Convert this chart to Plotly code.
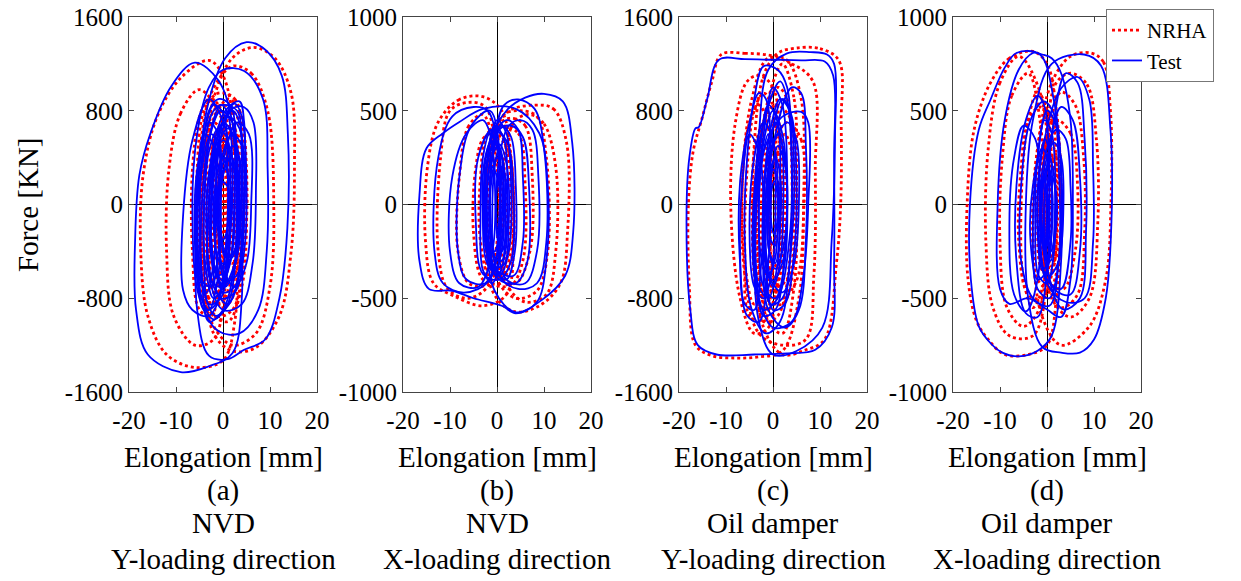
import plotly.graph_objects as go

# ---------------- data (elongation mm, force kN), loops ----------------
A_NRHA = [
    [(-3,1230),(-9,1080),(-14,750),(-17,250),(-17.5,-400),(-16,-950),(-12,-1280),(-6,-1390),(0,-1330),(2.5,-1000),(3,-200),(2.5,600),(0,1100)],
    [(6.5,1340),(11,1250),(14.5,950),(15.2,300),(14.5,-400),(12,-950),(7,-1220),(2,-1250),(-2,-1100),(-4,-500),(-4,300),(-2,900),(2,1250)],
    [(2,1180),(6,1120),(9.5,800),(10.8,0),(10,-700),(7,-1100),(2,-1200),(-2.5,-1000),(-5,-400),(-5,400),(-2.5,950)],
    [(-5,980),(-9,780),(-11.5,300),(-12,-400),(-10.5,-950),(-6,-1200),(-2,-1150),(0.5,-700),(1,100),(0,700)],
    [(-1,950),(2.5,900),(4.5,500),(5,-200),(4,-700),(1,-1000),(-3,-900),(-5.5,-400),(-5.5,300),(-4,800)],
    [(0,850),(3,750),(4,200),(3.5,-500),(1,-850),(-3,-800),(-4.5,-300),(-4,400),(-2,800)],
    [(-1,800),(1.5,650),(2.5,0),(2,-600),(-0.5,-850),(-3,-600),(-3.5,0),(-3,550)],
    [(0.5,650),(2.5,450),(3,-100),(2,-600),(-0.5,-700),(-2.5,-400),(-2.5,200),(-1.5,600)],
    [(-0.5,500),(1.5,350),(1.8,-200),(0.5,-550),(-1.5,-450),(-2,0),(-1.5,400)],
    [(1,300),(3.5,250),(4,-200),(2.5,-500),(0,-450),(-1,-50),(-0.5,250)],
    [(-2,700),(0,600),(0.5,0),(-0.5,-700),(-2.5,-850),(-4,-500),(-4,200),(-3.5,600)],
    [(1,900),(3.5,800),(5,300),(4.5,-400),(2,-900),(-1.5,-950),(-4,-600),(-4.5,0),(-3,600)],
    [(-1.5,600),(0.5,500),(1,0),(0,-500),(-2,-650),(-3.2,-300),(-3,200)],
    [(0,400),(2,300),(2.2,-100),(1,-400),(-1,-350),(-1.5,0),(-1,300)],
    [(2,650),(4,500),(4.5,0),(3.5,-500),(1,-650),(-1,-400),(-1,100),(0,500)],
    [(-3,900),(-1,850),(0,300),(-0.5,-500),(-2.5,-950),(-5,-900),(-6.5,-400),(-6.5,300),(-5,750)],
    [(0.5,750),(2.5,650),(3.5,150),(3,-400),(1,-800),(-2,-750),(-3,-300),(-2.5,300),(-1,650)],
]
A_TEST = [
    [(-6,1210),(-11,1010),(-15.5,600),(-17.8,250),(-18.7,-300),(-18.5,-900),(-16,-1280),(-9,-1430),(-3,-1380),(2,-1270),(4,-800),(3.5,0),(2,700),(-1,1060)],
    [(5,1385),(9,1320),(12.5,1100),(13.8,600),(13.7,-200),(12,-800),(9,-1150),(4.5,-1240),(1,-1320),(-3,-1290),(-5.5,-900),(-5.5,0),(-3.5,800),(0.5,1250)],
    [(0,1150),(4.5,1140),(8.5,900),(9.5,300),(9.3,-400),(7.5,-900),(3.5,-1100),(-1,-1080),(-5,-800),(-6.5,-100),(-5.5,600),(-3,1000)],
    [(-3,900),(-6.5,550),(-8.5,-100),(-8.5,-730),(-6.5,-900),(-3,-950),(0,-700),(1.5,0),(0.5,650)],
    [(4.5,830),(6.5,700),(7,100),(6.3,-500),(4,-850),(0,-900),(-3,-600),(-3,0),(-1,600),(2,820)],
    [(0,850),(3,800),(4,400),(4,-300),(2,-800),(-1.5,-950),(-4,-750),(-5,-200),(-4,500),(-2,800)],
    [(3.5,880),(4.5,700),(4.5,0),(3.5,-600),(1,-850),(-2,-700),(-3.5,-200),(-2.5,400),(0.5,800)],
    [(-0.5,800),(2,700),(2.8,200),(2.5,-500),(0,-900),(-3,-1000),(-4.5,-600),(-4.5,0),(-3,550)],
    [(1,650),(3,500),(3.5,0),(2.5,-500),(0,-700),(-2,-500),(-2.5,0),(-1.5,450)],
    [(0,550),(2,400),(2.3,-100),(1,-550),(-1,-600),(-2.5,-300),(-2,250)],
    [(2,600),(4,500),(4.5,-100),(3,-600),(0.5,-650),(-1,-200),(-0.5,350)],
    [(-1.5,450),(0.5,350),(1,-200),(-0.5,-700),(-2.5,-650),(-3.5,-200),(-3,250)],
    [(0.5,300),(1.5,200),(1.5,-200),(0.5,-400),(-0.5,-300),(-1,0),(-0.5,250)],
    [(-2,850),(0,780),(1,300),(0.5,-400),(-1.5,-850),(-4,-900),(-5.5,-500),(-5.5,100),(-4,600)],
    [(2.5,860),(4,750),(5,200),(4.5,-400),(2.5,-750),(-0.5,-800),(-2.5,-400),(-2,200),(0,700)],
    [(-3,700),(-1,600),(-0.5,0),(-1,-600),(-3,-900),(-5,-750),(-6,-300),(-5.5,300)],
    [(1,750),(3.5,650),(4,100),(3,-450),(0.5,-700),(-2,-550),(-3,-100),(-2,450)],
    [(0,400),(2.5,300),(3,-100),(2,-450),(-0.5,-500),(-2,-200),(-1.5,200)],
    [(-1,650),(1,550),(1.5,0),(0.5,-650),(-2,-800),(-3.8,-500),(-4,0),(-3,450)],
    [(3,700),(5.5,600),(6,0),(5,-500),(2.5,-700),(0,-550),(-1,-100),(0.5,450)],
    [(-0.5,200),(1,150),(1.2,-150),(0,-300),(-1.2,-200),(-1.3,50)],
    [(-4,600),(-2,500),(-1.5,0),(-2,-500),(-3.5,-750),(-5.2,-600),(-5.8,-100),(-5.2,350)],
    [(2,500),(3.5,400),(3.8,0),(3,-350),(1,-450),(-0.5,-200),(0,250)],
    [(-1,900),(1.5,850),(3,400),(3,-300),(1,-850),(-2,-980),(-4.5,-800),(-5.5,-300),(-4.5,400),(-3,800)],
    [(2,800),(3.5,700),(4.5,300),(4.2,-300),(2.5,-700),(0,-750),(-1.5,-400),(-1.5,200),(0,650)],
    [(-2.5,600),(-1,500),(-0.5,100),(-1,-400),(-2.5,-700),(-4.5,-650),(-5,-200),(-4.5,300)],
    [(0,700),(2,600),(2.5,100),(2,-400),(0,-650),(-2,-500),(-2.5,0),(-1.5,500)],
    [(1.5,400),(3,300),(3.3,-100),(2.5,-400),(0.5,-450),(-0.5,-150),(0,250)],
    [(-0.5,850),(1,780),(2,300),(1.5,-300),(-0.5,-800),(-3,-850),(-4,-500),(-3.8,200),(-2.5,650)],
]

B_NRHA = [
    [(-3,575),(-8,560),(-12.5,440),(-14.8,200),(-15.2,-200),(-13.5,-420),(-9,-490),(-3,-540),(2,-480),(3.5,-150),(3,250),(1,500)],
    [(8,530),(12,510),(14.8,330),(15,-150),(13.5,-420),(9,-540),(3.5,-570),(-1,-460),(-2.5,-100),(-1.5,300),(2,490)],
    [(-6,545),(-10,500),(-12,250),(-12.5,-250),(-10.5,-450),(-6,-500),(-1.5,-420),(0.5,-50),(-0.5,350),(-2.5,520)],
    [(5,500),(8.5,470),(10.5,250),(10.8,-250),(8.5,-460),(4,-500),(0,-400),(-2,-50),(-1,330),(1.5,480)],
    [(1,420),(4.5,380),(6,100),(5.5,-300),(3,-430),(-1,-420),(-3.5,-200),(-3.5,150),(-2,380)],
    [(-1,380),(2,330),(3.5,50),(3,-300),(0.5,-420),(-3,-400),(-5,-150),(-4.5,200),(-3,350)],
    [(0,300),(1.5,200),(2,-100),(1,-330),(-1,-350),(-2.5,-100),(-2,200)],
    [(3,460),(6,420),(7.5,150),(7,-250),(4,-420),(0,-380),(-2,-100),(-1.5,250),(0.5,430)],
    [(-0.5,250),(1,150),(1,-200),(-0.5,-300),(-1.5,-100),(-1.5,150)],
    [(0,400),(2,300),(3,0),(2,-300),(0,-400),(-2,-250),(-2.5,100),(-1.5,330)],
    [(-3,480),(-6,420),(-8,150),(-8.3,-250),(-6,-420),(-2.5,-430),(0,-200),(0,200)],
    [(7,480),(10,430),(12.5,200),(12.5,-250),(10.5,-480),(6,-520),(2,-420),(1,-50),(2,320),(4,450)],
    [(0.5,350),(2.5,280),(3.5,0),(3,-250),(1,-380),(-1.5,-320),(-2.5,-50),(-1.5,250)],
]
B_TEST = [
    [(-11.5,380),(-15,300),(-16.5,50),(-16.5,-300),(-14.5,-450),(-9.5,-460),(-5,-500),(1,-540),(4,-580),(8.5,-520),(10.5,-300),(10.8,100),(9,380),(4,510),(-3,510),(-8,440)],
    [(10,590),(14,550),(16,330),(16.2,-150),(14.5,-380),(9.5,-510),(4,-575),(-0.5,-460),(-2.5,-100),(-2,300),(2,500),(6,570)],
    [(-5,520),(-9.5,470),(-12.5,250),(-13.3,-250),(-11.5,-420),(-7,-470),(-1.5,-400),(0.5,-50),(0,330),(-2,500)],
    [(4.5,560),(8,510),(10,300),(10.5,-200),(8.5,-420),(4.5,-450),(0.5,-380),(-1.5,0),(-0.5,350),(1.5,530)],
    [(-1.5,500),(-5.5,420),(-8,150),(-8.3,-250),(-6.5,-400),(-2.5,-420),(0.5,-200),(0.8,200)],
    [(3,420),(5.5,360),(6.8,100),(6.5,-300),(4,-420),(0,-390),(-2.5,-150),(-2,220),(0.5,400)],
    [(-1,400),(2,340),(3.5,50),(3,-300),(0.5,-400),(-3,-370),(-4.5,-100),(-4,250)],
    [(0.5,320),(2,220),(2.5,-100),(1.5,-320),(-0.5,-330),(-2,-100),(-1.5,220)],
    [(0,250),(1.2,150),(1.2,-150),(0,-300),(-1.2,-200),(-1.3,100)],
    [(2,450),(4.5,400),(5.5,150),(5.5,-200),(3.5,-380),(-1,-330),(-3,-50),(-2,300)],
    [(0,450),(2,380),(3,100),(2.5,-250),(0.5,-380),(-2,-320),(-3,-50),(-2,250)],
    [(-0.5,350),(1,250),(1.5,0),(1,-250),(-0.5,-350),(-2,-200),(-2,100)],
    [(1,200),(2,100),(2,-150),(1,-250),(0,-150),(0,100)],
    [(-1,200),(0.3,120),(0.5,-150),(-0.5,-250),(-1.5,-150),(-1.5,100)],
    [(5,450),(7.5,400),(8.8,150),(8.5,-250),(6,-420),(2,-400),(0,-150),(0.5,250),(2.5,420)],
    [(-3,450),(-6.5,380),(-9.5,150),(-10,-250),(-8,-420),(-4,-440),(-1,-250),(-0.5,150),(-1.5,380)],
    [(-0.5,420),(1.5,350),(2.2,50),(1.8,-250),(0,-380),(-1.8,-300),(-2.5,-50),(-2,250)],
    [(0.5,300),(1.5,200),(1.8,-50),(1,-300),(-0.5,-280),(-1,-50),(-0.5,200)],
    [(1,420),(3,360),(4,100),(3.8,-250),(2,-400),(-0.5,-350),(-1.5,-100),(-1,250)],
    [(-1.5,380),(0,300),(0.8,0),(0.5,-300),(-1,-420),(-3,-350),(-3.5,-50),(-3,250)],
]

C_NRHA = [
    [(-11,1280),(-6,1290),(-1,1275),(3,1230),(6,900),(6.5,0),(5.5,-800),(2,-1250),(-3,-1300),(-8,-1310),(-13,-1290),(-16.5,-1200),(-17.8,-700),(-18,0),(-17,450),(-15,750),(-13,1050)],
    [(5,1335),(10,1330),(14,1230),(14.5,700),(14.4,0),(13.5,-500),(11,-1150),(7,-1240),(2,-1280),(-2,-1050),(-4,-300),(-4,500),(-2,1100),(1,1290)],
    [(-1,1250),(4,1200),(8.5,1050),(9,300),(8.7,-600),(7,-1150),(2,-1200),(-3,-1100),(-6,-600),(-6.5,200),(-4.5,900)],
    [(-3,1100),(0,1000),(1.5,300),(1,-600),(-1,-1050),(-4,-1100),(-7,-800),(-9,0),(-8,700),(-5.5,1050)],
    [(2,1200),(4.5,900),(5,200),(4.5,-700),(2,-1100),(-1,-1000),(-3,-500),(-3,300),(-1,900)],
    [(0.5,850),(3.5,750),(5,200),(4.5,-500),(2,-850),(-1.5,-800),(-3.5,-300),(-3,350),(-1.5,750)],
    [(-1,750),(1.5,550),(2,0),(1.5,-600),(-1,-900),(-3.5,-600),(-4.5,0),(-3.5,550)],
    [(0,500),(1.5,350),(2,-100),(1,-500),(-1,-550),(-2,-150),(-1.5,300)],
    [(3,700),(6,550),(6.5,-100),(5,-650),(2,-800),(-1,-600),(-1.5,0),(0.5,550)],
    [(-3,850),(-1,650),(-0.5,-100),(-1.5,-700),(-4,-850),(-6,-500),(-6.5,200),(-5,700)],
    [(1,1000),(3,900),(4,300),(3.5,-500),(1,-950),(-2,-1000),(-4,-600),(-4,100),(-2,700)],
    [(-2,950),(0,850),(0.5,200),(0,-500),(-2,-1000),(-5,-950),(-6,-400),(-5.5,300),(-4,800)],
    [(0,300),(1,200),(1,-200),(0,-350),(-1,-200),(-1,100)],
    [(2.5,600),(4,450),(4.5,-100),(3.5,-600),(1,-700),(-0.5,-400),(-0.5,100),(1,450)],
    [(0.5,700),(2,550),(2.5,0),(2,-500),(0,-750),(-2,-550),(-2.5,0),(-1.5,450)],
]
C_TEST = [
    [(-11.5,1235),(-6,1240),(0,1235),(6,1230),(11,1220),(12.8,1100),(13,400),(13,-500),(12.5,-1050),(9,-1240),(3,-1270),(-4,-1280),(-12,-1280),(-16,-1200),(-17.6,-900),(-18.4,-100),(-17.8,400),(-16.5,650),(-15.8,660),(-14,900)],
    [(3,1290),(8,1300),(11.5,1280),(13,1200),(13.2,600),(12.5,-300),(10.5,-1050),(5,-1250),(0,-1280),(-3,-1000),(-4,-200),(-3,600),(-1,1150)],
    [(-2,1180),(1,1150),(3,1000),(4,400),(3.5,-500),(1.5,-1000),(-1.5,-1100),(-4.5,-900),(-6,-300),(-5.5,400),(-4,900)],
    [(1.5,1050),(3,900),(4,300),(3.5,-300),(1,-800),(-2,-900),(-4,-600),(-4,100),(-2,700)],
    [(6,790),(7.5,700),(7.5,0),(6.5,-600),(4,-1000),(0,-1050),(-3,-800),(-4,-200),(-2,450),(2,750)],
    [(-5,600),(-3,450),(-2,0),(-2.5,-500),(-4,-900),(-6,-850),(-7,-400),(-6.5,200)],
    [(0,800),(2,600),(3,100),(2.5,-500),(0.5,-800),(-2,-700),(-3,-200),(-2.5,400)],
    [(1,600),(2.5,400),(3,-100),(2,-500),(0,-650),(-1.5,-400),(-1.5,100),(-0.5,450)],
    [(0.5,400),(1.5,250),(1.5,-200),(0.5,-500),(-0.8,-400),(-1,0),(-0.5,300)],
    [(3,700),(5,550),(5.5,0),(4.5,-500),(2,-750),(-1,-600),(-2,-100),(-1,400)],
    [(-2,700),(0,550),(0.5,0),(0,-500),(-2,-800),(-4,-700),(-5,-200),(-4,400)],
    [(0,1000),(2,850),(3,300),(2.5,-400),(0.5,-900),(-2,-950),(-3.5,-600),(-3.5,0),(-2,600)],
    [(-1,850),(1,700),(1.5,100),(1,-500),(-1,-800),(-3,-700),(-4,-200),(-3,400)],
    [(2,900),(4,750),(5,200),(4.5,-400),(2.5,-850),(0,-900),(-1.5,-500),(-1,200),(0,650)],
    [(0,300),(1,200),(1.2,-100),(0.5,-350),(-0.5,-300),(-0.8,0)],
    [(1,500),(2.5,350),(3,-50),(2,-400),(0.5,-550),(-1,-350),(-1,50),(0,350)],
    [(-3,950),(-1.5,900),(-0.5,300),(-1,-500),(-3,-1000),(-5.5,-950),(-7,-500),(-7,200),(-5,700)],
    [(4,1000),(6,950),(7,500),(7,-300),(5.5,-900),(2.5,-1050),(-1,-900),(-2,-300),(0,500)],
    [(0.5,700),(1.8,550),(2.2,0),(1.5,-500),(0,-700),(-1.5,-500),(-2,0),(-1,450)],
    [(1.5,900),(3.5,800),(4.5,300),(4,-300),(2,-800),(-0.5,-850),(-2,-500),(-2,100),(-0.5,650)],
    [(-1,600),(0.5,450),(1,0),(0.5,-450),(-1,-600),(-2.5,-450),(-3,0),(-2.2,400)],
    [(0.3,200),(0.9,100),(0.9,-150),(0.2,-250),(-0.4,-150),(-0.4,100)],
]

D_NRHA = [
    [(-3,817),(-8,780),(-12,650),(-15.5,400),(-17,0),(-16.8,-400),(-15,-620),(-12.5,-720),(-9,-800),(-4,-800),(0,-750),(2,-500),(3,0),(2,500),(0,750)],
    [(9.3,808),(12,760),(13.5,500),(13.6,0),(12.5,-400),(9,-650),(3,-750),(-1,-600),(-3,-200),(-2,300),(1,650),(5,790)],
    [(-6,790),(-10,650),(-12.5,300),(-13,-200),(-11.5,-550),(-8,-700),(-3,-700),(0,-420),(0.5,100),(-1.5,600)],
    [(5,700),(8.5,640),(10.5,350),(10.8,-100),(9,-500),(5,-600),(1,-500),(-1,-100),(0,400),(2,650)],
    [(-1.5,520),(1,450),(2,100),(1.5,-300),(-1,-500),(-4,-480),(-6,-200),(-5.5,200),(-4,450)],
    [(2,450),(5,380),(6.5,100),(6,-250),(3.5,-450),(0,-400),(-1.5,-100),(-1,250)],
    [(0,350),(1.5,200),(2,-100),(1,-350),(-1,-350),(-2,-50),(-1.5,250)],
    [(-2,600),(0,500),(0.5,0),(-0.5,-400),(-3,-550),(-5,-400),(-5.5,0),(-4,450)],
    [(1,250),(2.5,150),(3,-150),(1.5,-300),(0,-200),(-0.5,50)],
    [(0,500),(2,400),(3,100),(2.5,-300),(0.5,-450),(-2,-400),(-3,-100),(-2,300)],
    [(3,600),(6,530),(7.8,250),(8,-150),(6.5,-480),(3,-550),(0,-400),(-1,0),(0.5,400)],
    [(-4,700),(-7.5,580),(-9.5,250),(-10,-200),(-8.5,-550),(-5,-650),(-1.5,-550),(-0.5,-100),(-1.5,450)],
    [(0.5,350),(2,250),(2.3,-50),(1.5,-300),(0,-350),(-1,-150),(-0.8,200)],
]
D_TEST = [
    [(-6.5,808),(-9,730),(-12,560),(-14.5,400),(-16.4,0),(-16.2,-400),(-14.5,-650),(-12,-740),(-9.5,-790),(-6,-810),(-2,-780),(1,-700),(3,-300),(3,200),(1.5,550),(-1.5,800)],
    [(7.9,800),(11.5,740),(13.5,400),(13.7,-100),(12.5,-500),(10,-720),(7,-790),(3,-790),(-1,-760),(-4,-500),(-4.5,0),(-3,450),(1,750)],
    [(-3,808),(-1,800),(1,780),(3,700),(5,450),(5.5,0),(5,-400),(3,-600),(0,-560),(-4,-500),(-8,-530),(-10,-450),(-10.5,0),(-9,450),(-6,720)],
    [(6.5,680),(9,560),(9.8,200),(9.8,-200),(8,-500),(4,-520),(0,-420),(-2,-50),(-0.5,350),(3,620)],
    [(-0.7,550),(1.5,480),(2.5,200),(2.5,-300),(0.5,-540),(-3,-500),(-5.5,-300),(-5.5,100),(-3.5,450)],
    [(2,400),(4,350),(5,100),(5,-200),(3,-450),(0,-400),(-1.5,-100),(-0.5,250)],
    [(-1,300),(0.5,200),(1,-50),(0,-350),(-2,-400),(-3.5,-200),(-3,100)],
    [(1.5,330),(3,250),(3.5,0),(2.5,-300),(0.5,-380),(-1,-150),(-0.5,200)],
    [(0,200),(1,100),(1,-150),(0,-300),(-1,-200),(-1,50)],
    [(-5,420),(-2.5,350),(-1.5,0),(-2,-400),(-4.5,-570),(-7,-480),(-8,-100),(-7,250)],
    [(0,500),(2,420),(3,150),(2.5,-300),(0.5,-500),(-2,-450),(-3,-150),(-2,250)],
    [(-0.5,350),(0.8,250),(1,-50),(0.3,-300),(-1,-350),(-2,-150),(-1.8,150)],
    [(1,150),(2,50),(1.8,-150),(0.8,-250),(0,-100),(0.2,100)],
    [(3,520),(5.5,450),(7,150),(7,-250),(5,-480),(1.5,-450),(-0.5,-150),(0.5,300)],
    [(-2,580),(-0.5,520),(0.5,100),(0,-350),(-2,-600),(-4.5,-580),(-6.5,-300),(-6.5,100),(-4.5,450)],
    [(4,700),(6.5,650),(8,350),(8.3,-150),(7,-500),(3.5,-560),(0.5,-400),(0,0),(1.5,450)],
    [(-0.5,450),(1,380),(1.8,100),(1.5,-250),(0,-420),(-1.8,-380),(-2.5,-100),(-2,250)],
    [(0.5,250),(1.5,150),(1.6,-100),(0.8,-300),(-0.3,-250),(-0.6,0)],
    [(-1,150),(0,80),(0.3,-100),(-0.3,-250),(-1.2,-180),(-1.3,30)],
]

X_TICKS = [-20, -10, 0, 10, 20]
Y_TICKS_A = [-1600, -800, 0, 800, 1600]
Y_TICKS_B = [-1000, -500, 0, 500, 1000]
LABELS = ["(a)", "(b)", "(c)", "(d)"]
DAMPERS = ["NVD", "NVD", "Oil damper", "Oil damper"]
DIRECTIONS = ["Y-loading direction", "X-loading direction", "Y-loading direction", "X-loading direction"]
SERIES_NAMES = ["NRHA", "Test"]

panels = [
    (A_NRHA, A_TEST, Y_TICKS_A),
    (B_NRHA, B_TEST, Y_TICKS_B),
    (C_NRHA, C_TEST, Y_TICKS_A),
    (D_NRHA, D_TEST, Y_TICKS_B),
]

# ---------------- layout geometry (pixels) ----------------
W, H = 1241, 581
PX_L = [129, 403, 679, 953]
PX_W = 188
PY_T, PY_B = 17, 392
FONT = "Times New Roman, Liberation Serif, DejaVu Serif, serif"


def join(loops):
    xs, ys = [], []
    for lp in loops:
        pts = list(lp) + [lp[0]]
        xs += [p[0] for p in pts] + [None]
        ys += [p[1] for p in pts] + [None]
    return xs, ys


fig = go.Figure()
annotations = []
for i, (nrha, test, yt) in enumerate(panels):
    ax = "" if i == 0 else str(i + 1)
    xr, yr = join(nrha)
    xb, yb = join(test)
    fig.add_trace(go.Scatter(x=xr, y=yr, mode="lines", name=SERIES_NAMES[0],
                             line=dict(color="#ff0000", width=2.8, dash="dot", shape="spline", smoothing=1.0),
                             xaxis="x" + ax, yaxis="y" + ax, showlegend=(i == 0), legendrank=1))
    fig.add_trace(go.Scatter(x=xb, y=yb, mode="lines", name=SERIES_NAMES[1],
                             line=dict(color="#0000ff", width=1.8, shape="spline", smoothing=1.0),
                             xaxis="x" + ax, yaxis="y" + ax, showlegend=(i == 0), legendrank=2))
    x0 = PX_L[i] / W
    x1 = (PX_L[i] + PX_W) / W
    common = dict(showgrid=False, showline=True, linecolor="#444", linewidth=1, mirror="ticks",
                  ticks="inside", ticklen=5, tickcolor="#444",
                  zeroline=True, zerolinecolor="black", zerolinewidth=1,
                  tickfont=dict(family=FONT, size=25, color="black"))
    fig.update_layout(**{
        "xaxis" + ax: dict(domain=[x0, x1], range=[-20, 20], tickvals=X_TICKS,
                           ticktext=[str(v) for v in X_TICKS], anchor="y" + ax,
                           ticklabelstandoff=6, **common),
        "yaxis" + ax: dict(domain=[1 - PY_B / H, 1 - PY_T / H], range=[yt[0], yt[-1]], tickvals=yt,
                           ticktext=[str(v) for v in yt], anchor="x" + ax, **common),
    })
    cx = (PX_L[i] + PX_W / 2) / W
    for txt, py in zip(["Elongation [mm]", LABELS[i], DAMPERS[i], DIRECTIONS[i]], [457, 490, 523, 559]):
        annotations.append(dict(text=txt, x=cx, y=1 - py / H, xref="paper", yref="paper",
                                xanchor="center", yanchor="middle", showarrow=False,
                                font=dict(family=FONT, size=29, color="black")))

annotations.append(dict(text="Force [KN]", x=28 / W, y=1 - 205 / H, xref="paper", yref="paper",
                        xanchor="center", yanchor="middle", showarrow=False, textangle=-90,
                        font=dict(family=FONT, size=29, color="black")))

fig.update_layout(
    width=W, height=H, margin=dict(l=0, r=0, t=0, b=0, autoexpand=False),
    paper_bgcolor="white", plot_bgcolor="white",
    font=dict(family=FONT),
    annotations=annotations,
    legend=dict(x=1106 / W, y=1 - 9 / H, xanchor="left", yanchor="top",
                bordercolor="#777", borderwidth=1, bgcolor="white",
                font=dict(family=FONT, size=21, color="black"), tracegroupgap=0),
)

fig.write_html("out.html")
